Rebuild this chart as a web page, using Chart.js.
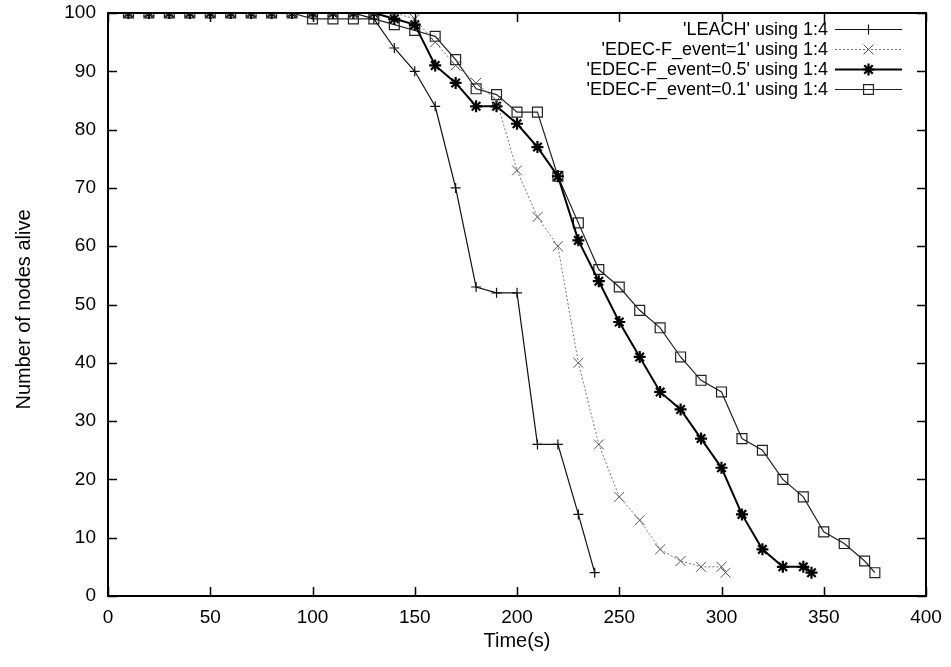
<!DOCTYPE html>
<html>
<head>
<meta charset="utf-8">
<script src="https://cdn.jsdelivr.net/npm/chart.js@4/dist/chart.umd.min.js"></script>
<style>
  html, body { margin: 0; padding: 0; background: #fff; }
  #wrap { width: 951px; height: 667px; position: relative; }
</style>
</head>
<body>
<div id="wrap"><canvas id="c" width="951" height="667"></canvas></div>
<script>
// Simulation time (s) and number of alive nodes for each protocol
const leachTime   = [10, 20, 30, 40, 50, 60, 70, 80, 90, 100, 110, 120, 130, 140, 150, 160, 170, 180, 190, 200, 210, 220, 230, 238];
const leachAlive  = [100, 100, 100, 100, 100, 100, 100, 100, 100, 100, 100, 100, 99, 94, 90, 84, 70, 53, 52, 52, 26, 26, 14, 4];

const event1Time  = [10, 20, 30, 40, 50, 60, 70, 80, 90, 100, 110, 120, 130, 140, 150, 160, 170, 180, 190, 200, 210, 220, 230, 240, 250, 260, 270, 280, 290, 300, 302];
const event1Alive = [100, 100, 100, 100, 100, 100, 100, 100, 100, 100, 100, 100, 100, 100, 99, 95, 91, 88, 85, 73, 65, 60, 40, 26, 17, 13, 8, 6, 5, 5, 4];

const event05Time  = [10, 20, 30, 40, 50, 60, 70, 80, 90, 100, 110, 120, 130, 140, 150, 160, 170, 180, 190, 200, 210, 220, 230, 240, 250, 260, 270, 280, 290, 300, 310, 320, 330, 340, 344];
const event05Alive = [100, 100, 100, 100, 100, 100, 100, 100, 100, 100, 100, 100, 100, 99, 98, 91, 88, 84, 84, 81, 77, 72, 61, 54, 47, 41, 35, 32, 27, 22, 14, 8, 5, 5, 4];

const event01Time  = [10, 20, 30, 40, 50, 60, 70, 80, 90, 100, 110, 120, 130, 140, 150, 160, 170, 180, 190, 200, 210, 220, 230, 240, 250, 260, 270, 280, 290, 300, 310, 320, 330, 340, 350, 360, 370, 375];
const event01Alive = [100, 100, 100, 100, 100, 100, 100, 100, 100, 99, 99, 99, 99, 98, 97, 96, 92, 87, 86, 83, 83, 72, 64, 56, 53, 49, 46, 41, 37, 35, 27, 25, 20, 17, 11, 9, 6, 4];

const seriesLabels = [
  "'LEACH' using 1:4",
  "'EDEC-F_event=1' using 1:4",
  "'EDEC-F_event=0.5' using 1:4",
  "'EDEC-F_event=0.1' using 1:4"
];

const xTicks = [0, 50, 100, 150, 200, 250, 300, 350, 400];
const yTicks = [0, 10, 20, 30, 40, 50, 60, 70, 80, 90, 100];

const FONT = "'Liberation Sans', Arial, Helvetica, sans-serif";

function toPoints(xs, ys) {
  return xs.map((x, i) => ({ x: x, y: ys[i] }));
}

// Frame, inward ticks on all four sides, axis titles and the key
const framePlugin = {
  id: 'frame',
  afterDatasetsDraw(chart) {
    const ctx = chart.ctx;
    const a = chart.chartArea;
    const xs = chart.scales.x, ys = chart.scales.y;
    ctx.save();
    ctx.strokeStyle = '#000';
    ctx.lineWidth = 1.5;
    const tl = 9;
    ctx.beginPath();
    xTicks.forEach(v => {
      const px = Math.round(xs.getPixelForValue(v)) + 0.5;
      ctx.moveTo(px, a.bottom); ctx.lineTo(px, a.bottom - tl);
      ctx.moveTo(px, a.top); ctx.lineTo(px, a.top + tl);
    });
    yTicks.forEach(v => {
      const py = Math.round(ys.getPixelForValue(v)) + 0.5;
      ctx.moveTo(a.left, py); ctx.lineTo(a.left + tl, py);
      ctx.moveTo(a.right, py); ctx.lineTo(a.right - tl, py);
    });
    ctx.stroke();
    ctx.lineWidth = 2;
    ctx.strokeRect(a.left, a.top, a.right - a.left, a.bottom - a.top);

    // axis titles
    ctx.fillStyle = '#000';
    ctx.font = '20px ' + FONT;
    ctx.textAlign = 'center';
    ctx.textBaseline = 'middle';
    ctx.fillText('Time(s)', (a.left + a.right) / 2, 641);
    ctx.save();
    ctx.translate(24, (a.top + a.bottom) / 2 + 5);
    ctx.rotate(-Math.PI / 2);
    ctx.fillText('Number of nodes alive', 0, 0);
    ctx.restore();

    // key in the upper right corner
    const textRight = 828, lineL = 835, lineR = 902;
    chart.data.datasets.forEach((ds, i) => {
      const y = 29 + i * 20;
      ctx.font = '18px ' + FONT;
      ctx.textAlign = 'right';
      ctx.textBaseline = 'middle';
      ctx.fillStyle = '#000';
      ctx.fillText(ds.label, textRight, y + 1);
      ctx.save();
      ctx.strokeStyle = ds.borderColor;
      ctx.lineWidth = ds.borderWidth;
      ctx.setLineDash(ds.borderDash || []);
      ctx.beginPath();
      ctx.moveTo(lineL, y + 0.5); ctx.lineTo(lineR, y + 0.5);
      ctx.stroke();
      ctx.setLineDash([]);
      ctx.fillStyle = ds.pointBackgroundColor;
      ctx.strokeStyle = ds.pointBorderColor;
      ctx.lineWidth = ds.pointBorderWidth;
      Chart.helpers.drawPoint(ctx, {
        pointStyle: ds.pointStyle, radius: ds.pointRadius, rotation: 0, borderWidth: ds.pointBorderWidth
      }, (lineL + lineR) / 2, y + 0.5);
      ctx.restore();
    });
    ctx.restore();
  }
};

new Chart(document.getElementById('c'), {
  type: 'line',
  data: {
    datasets: [
      {
        label: seriesLabels[0],
        data: toPoints(leachTime, leachAlive),
        borderColor: '#111', borderWidth: 1.2,
        pointStyle: 'cross', pointRadius: 5, pointBorderWidth: 1.2,
        pointBorderColor: '#111', pointBackgroundColor: '#fff'
      },
      {
        label: seriesLabels[1],
        data: toPoints(event1Time, event1Alive),
        borderColor: '#777', borderWidth: 1, borderDash: [2, 2],
        pointStyle: 'crossRot', pointRadius: 7, pointBorderWidth: 1,
        pointBorderColor: '#555', pointBackgroundColor: '#fff'
      },
      {
        label: seriesLabels[2],
        data: toPoints(event05Time, event05Alive),
        borderColor: '#000', borderWidth: 2,
        pointStyle: 'star', pointRadius: 6, pointBorderWidth: 2.2,
        pointBorderColor: '#000', pointBackgroundColor: '#000'
      },
      {
        label: seriesLabels[3],
        data: toPoints(event01Time, event01Alive),
        borderColor: '#222', borderWidth: 1.2,
        pointStyle: 'rect', pointRadius: 7, pointBorderWidth: 1.2,
        pointBorderColor: '#222', pointBackgroundColor: 'rgba(255,255,255,0)'
      }
    ]
  },
  options: {
    responsive: false,
    animation: false,
    devicePixelRatio: 1,
    layout: { padding: { left: 0, right: 25, top: 13, bottom: 0 } },
    plugins: { legend: { display: false }, tooltip: { enabled: false } },
    elements: { line: { tension: 0 } },
    scales: {
      x: {
        type: 'linear', min: 0, max: 400,
        afterBuildTicks(scale) { scale.ticks = xTicks.map(v => ({ value: v })); },
        afterFit(scale) {
          scale.height = 71;
          scale.paddingLeft = 0; scale.paddingRight = 0;
        },
        grid: { display: false, drawTicks: false },
        border: { display: false },
        ticks: { color: '#000', font: { family: FONT, size: 19 }, padding: 10, maxRotation: 0 }
      },
      y: {
        type: 'linear', min: 0, max: 100,
        afterBuildTicks(scale) { scale.ticks = yTicks.map(v => ({ value: v })); },
        afterFit(scale) {
          scale.width = 108;
          scale.paddingTop = 0; scale.paddingBottom = 0;
        },
        grid: { display: false, drawTicks: false },
        border: { display: false },
        ticks: { color: '#000', font: { family: FONT, size: 19 }, padding: 12 }
      }
    }
  },
  plugins: [framePlugin]
});
</script>
</body>
</html>
